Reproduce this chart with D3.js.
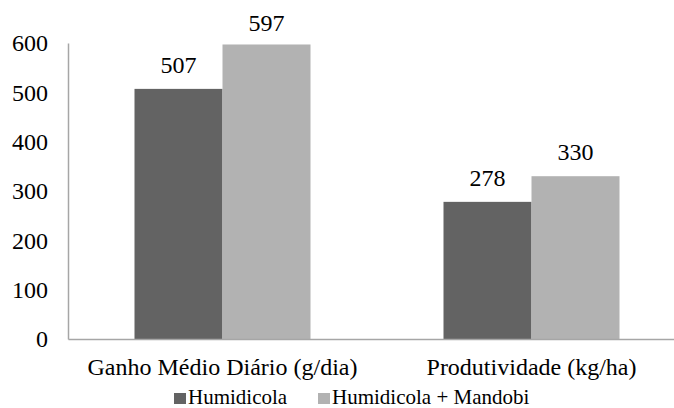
<!DOCTYPE html>
<html>
<head>
<meta charset="utf-8">
<script src="https://cdn.jsdelivr.net/npm/d3@7"></script>
<style>
  body { margin: 0; background: #fff; }
</style>
</head>
<body>
<div id="chart"></div>
<script>
// chart data
const categories = ['Ganho Médio Diário (g/dia)', 'Produtividade (kg/ha)'];
const seriesNames = ['Humidicola', 'Humidicola + Mandobi'];
const humidicola = [507, 278];
const humidicolaMandobi = [597, 330];
const yTicks = [0, 100, 200, 300, 400, 500, 600];
const colors = ['#636363', '#b2b2b2'];

const FONT = "'Liberation Serif'";
const width = 674, height = 408;
const margin = {top: 43, right: -12, bottom: 69, left: 68};

const svg = d3.select('#chart').append('svg')
    .attr('width', width)
    .attr('height', height);

const innerW = width - margin.left - margin.right;
const innerH = height - margin.top - margin.bottom;

const g = svg.append('g')
    .attr('transform', `translate(${margin.left},${margin.top})`);

// scales
const x0 = d3.scaleBand().domain(categories).range([0, innerW]);
const groupW = 176;
const x1 = d3.scaleBand().domain(seriesNames).range([0, groupW]);
const y = d3.scaleLinear().domain([0, 600]).range([innerH, 0]);

const rows = categories.map((c, i) => ({cat: c, vals: [humidicola[i], humidicolaMandobi[i]]}));

// bars
const groups = g.selectAll('.grp').data(rows).join('g')
    .attr('class', 'grp')
    .attr('transform', d => `translate(${x0(d.cat) + (x0.bandwidth() - groupW) / 2},0)`);

groups.selectAll('rect')
    .data(d => d.vals.map((v, i) => ({name: seriesNames[i], v: v, i: i})))
    .join('rect')
    .attr('x', d => x1(d.name))
    .attr('y', d => y(d.v))
    .attr('width', x1.bandwidth())
    .attr('height', d => innerH - y(d.v))
    .attr('fill', d => colors[d.i]);

// value labels (kept inside the chart area near the top)
groups.selectAll('text.val')
    .data(d => d.vals.map((v, i) => ({name: seriesNames[i], v: v})))
    .join('text')
    .attr('class', 'val')
    .attr('x', d => x1(d.name) + x1.bandwidth() / 2)
    .attr('y', d => Math.max(y(d.v) - 16, -12))
    .attr('text-anchor', 'middle')
    .style('font-family', FONT)
    .style('font-size', '24px')
    .text(d => d.v);

// y axis
const yAxisG = g.append('g')
    .call(d3.axisLeft(y).tickValues(yTicks).tickSize(0).tickPadding(20));
yAxisG.select('.domain').attr('stroke', '#a6a6a6').attr('stroke-width', 1.5);
yAxisG.selectAll('text').style('font-family', FONT).style('font-size', '24px').attr('fill', '#000');

// x axis
const xAxisG = g.append('g')
    .attr('transform', `translate(0,${innerH})`)
    .call(d3.axisBottom(x0).tickSize(0).tickPadding(19));
xAxisG.select('.domain').attr('stroke', '#a6a6a6').attr('stroke-width', 1.5);
xAxisG.selectAll('text').style('font-family', FONT).style('font-size', '24px').attr('fill', '#000');

// legend
const legend = svg.append('g').attr('transform', 'translate(174,393)');
const legX = [0, 144];
seriesNames.forEach((n, i) => {
  const lg = legend.append('g').attr('transform', `translate(${legX[i]},0)`);
  lg.append('rect').attr('x', 0).attr('y', 0).attr('width', 12).attr('height', 11).attr('fill', colors[i]);
  lg.append('text').attr('x', 14).attr('y', 11)
    .style('font-family', FONT).style('font-size', '21px').text(n);
});
</script>
</body>
</html>
